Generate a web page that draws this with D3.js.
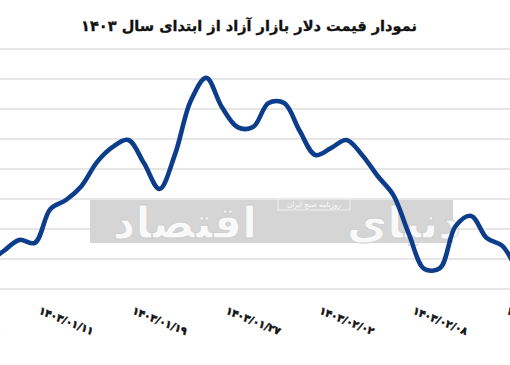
<!DOCTYPE html>
<html>
<head>
<meta charset="utf-8">
<script src="https://cdn.jsdelivr.net/npm/d3@7"></script>
<style>
  html, body { margin: 0; padding: 0; background: #fff; }
  svg { display: block; }
</style>
</head>
<body>
<svg id="chart" width="510" height="365"></svg>
<script>
// ---- data ----
const titleText = "نمودار قیمت دلار بازار آزاد از ابتدای سال ۱۴۰۳";
const values = [59550, 59880, 60250, 60620, 60520, 61650, 61950, 62420, 63220, 63720,
                63950, 63180, 62320, 63480, 65250, 66020, 65050, 64380, 64380, 65180,
                65180, 64250, 63450, 63680, 63950, 63450, 62750, 62120, 60820, 59650,
                59680, 61080, 61420, 60680, 60420, 59620, 59120];
const tickIndex = [0, 6, 12, 18, 24, 30, 36];
const tickLabels = ["۱۴۰۳/۰۱/۰۵", "۱۴۰۳/۰۱/۱۱", "۱۴۰۳/۰۱/۱۹", "۱۴۰۳/۰۱/۲۷",
                    "۱۴۰۳/۰۲/۰۲", "۱۴۰۳/۰۲/۰۸", "۱۴۰۳/۰۲/۱۴"];
const gridValues = [59000, 60000, 61000, 62000, 63000, 64000, 65000, 66000, 67000];
const watermarkWords = ["دنیای", "اقتصاد"];
const watermarkSub = "روزنامه صبح ایران";

// ---- layout ----
const svg = d3.select("#chart");
const W = 510;
const x = d3.scaleLinear().domain([0, values.length - 1]).range([-27.5, 533.5]);
const y = d3.scaleLinear().domain([59000, 67000]).range([288.5, 48.5]);
const fa = "'DejaVu Sans', sans-serif";

// title
const title = svg.append("text")
  .attr("x", 249).attr("y", 25)
  .attr("text-anchor", "middle")
  .attr("dominant-baseline", "central")
  .attr("direction", "rtl")
  .attr("font-family", fa)
  .attr("font-weight", "bold")
  .attr("font-size", 16)
  .attr("fill", "#111")
  .attr("stroke", "#111")
  .attr("stroke-width", 0.3)
  .text(titleText);
{
  const w = title.node().getComputedTextLength();
  title.attr("font-size", 16 * 336 / w);
}

// gridlines
const grid = svg.append("g")
  .call(d3.axisLeft(y).tickValues(gridValues).tickSize(-W).tickFormat(""));
grid.select(".domain").remove();
grid.selectAll(".tick line").attr("stroke", "#dedede").attr("stroke-width", 1.4);

// watermark
const wm = svg.append("g").attr("class", "watermark");
wm.append("rect").attr("x", 90).attr("y", 200).attr("width", 363).attr("height", 43)
  .attr("fill", "#d5d5d5");
const wmPos = [[404, 238], [185, 238]];
watermarkWords.forEach((t, i) => {
  wm.append("text")
    .attr("x", wmPos[i][0]).attr("y", wmPos[i][1])
    .attr("text-anchor", "middle")
    .attr("direction", "rtl")
    .attr("font-family", fa)
    .attr("font-weight", "bold")
    .attr("font-size", 44)
    .attr("fill", "#ffffff")
    .attr("fill-opacity", 0.9)
    .attr("stroke", "#cdcdcd")
    .attr("stroke-width", 0.8)
    .text(t);
});
wm.append("rect").attr("x", 278).attr("y", 198).attr("width", 72).attr("height", 12)
  .attr("fill", "none").attr("stroke", "#f4f4f4").attr("stroke-width", 0.8);
wm.append("text")
  .attr("x", 314).attr("y", 204.5)
  .attr("text-anchor", "middle")
  .attr("dominant-baseline", "central")
  .attr("direction", "rtl")
  .attr("font-family", fa)
  .attr("font-size", 7)
  .attr("fill", "#ffffff")
  .text(watermarkSub);

// line
const line = d3.line()
  .x((d, i) => x(i))
  .y(d => y(d))
  .curve(d3.curveCatmullRom.alpha(0.5));
svg.append("path")
  .datum(values)
  .attr("d", line)
  .attr("fill", "none")
  .attr("stroke", "#0c3d8b")
  .attr("stroke-width", 4.6)
  .attr("stroke-linejoin", "round")
  .attr("stroke-linecap", "round");

// x axis labels
const xAxis = svg.append("g")
  .attr("transform", "translate(0,288.5)")
  .call(d3.axisBottom(x).tickValues(tickIndex).tickSize(0)
        .tickFormat((d) => tickLabels[tickIndex.indexOf(d)]));
xAxis.select(".domain").remove();
xAxis.selectAll(".tick text")
  .attr("font-family", fa)
  .attr("font-weight", "bold")
  .attr("font-size", 13)
  .attr("fill", "#111")
  .attr("stroke", "#111")
  .attr("stroke-width", 0.5)
  .attr("text-anchor", "middle")
  .attr("dominant-baseline", "central")
  .attr("dy", null)
  .attr("y", 0)
  .attr("transform", "translate(0,32) rotate(22)");
{
  const n = xAxis.select(".tick text").node();
  const w = n.getComputedTextLength();
  xAxis.selectAll(".tick text").attr("font-size", 13 * 58 / w);
}
</script>
</body>
</html>
